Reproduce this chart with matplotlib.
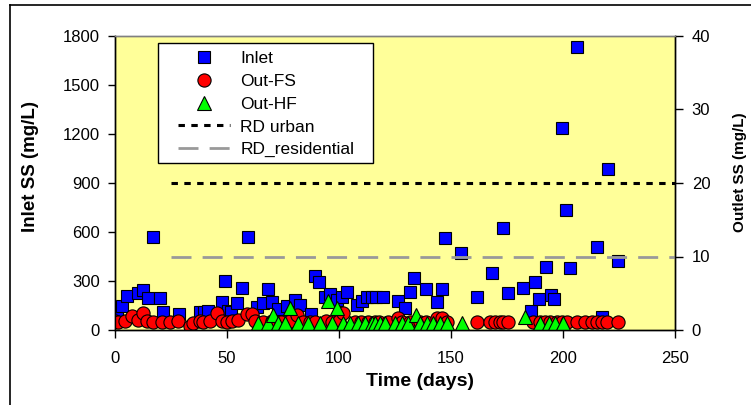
import matplotlib
matplotlib.use('Agg')
import matplotlib.pyplot as plt
from matplotlib.lines import Line2D
from matplotlib.patches import Rectangle

plt.rcParams['font.family'] = ['Liberation Sans', 'DejaVu Sans']

# ---------------- data ----------------
inlet_days = [0.7, 3.3, 5.2, 10.4, 12.6, 14.6, 17.1, 20.1, 21.6, 28.6, 37.9, 39.9, 41.7,
              47.6, 49.1, 50.6, 52.0, 54.3, 56.5, 59.5, 63.2, 66.2, 68.5, 70.0, 72.9,
              76.6, 80.4, 82.6, 87.5, 89.3, 91.2, 93.8, 96.0, 99.0, 101.2, 103.4, 107.9,
              110.1, 112.4, 114.6, 116.5, 119.8, 126.5, 129.5, 131.7, 133.6, 138.8,
              143.9, 145.8, 147.3, 154.5, 161.5, 168.4, 173.4, 175.3, 182.3, 185.7,
              187.3, 189.4, 192.4, 194.5, 196.2, 199.4, 201.3, 203.1, 206.4, 215.0,
              217.3, 220.2, 224.7]
inlet_ss = [92, 147, 208, 229, 245, 198, 567, 198, 110, 96, 110, 113, 116,
            173, 300, 116, 112, 163, 255, 567, 143, 163, 249, 173, 127,
            147, 184, 153, 96, 331, 294, 200, 220, 184, 204, 231, 153,
            179, 204, 200, 204, 204, 179, 137, 231, 320, 249,
            170, 249, 561, 470, 204, 352, 623, 225, 259, 114,
            292, 188, 388, 212, 188, 1235, 735, 378, 1731, 510,
            82, 986, 421]

fs_days = [0.0, 1.5, 4.5, 7.4, 10.4, 12.6, 14.1, 17.0, 20.8, 24.6, 28.3, 33.5, 35.0,
           38.0, 39.4, 42.4, 45.4, 47.6, 49.8, 52.1, 55.0, 58.8, 61.0, 62.5,
           66.0, 70.0, 74.0, 78.0, 81.1, 84.0, 87.0, 89.3, 94.0, 97.0, 100.0, 102.0,
           107.0, 110.0, 113.0, 116.0, 118.0, 122.0, 126.5, 128.0, 131.7, 136.0,
           139.0, 143.6, 145.8, 148.0,
           161.5, 167.4, 169.6, 171.9, 173.4, 175.6, 186.7, 189.7, 192.0, 194.2,
           197.2, 199.4, 201.6, 206.1, 209.8, 212.8, 215.0, 217.3, 219.5, 224.7]
fs_ss = [1.2, 1.1, 1.2, 1.9, 1.3, 2.3, 1.2, 1.1, 1.1, 1.1, 1.2, 0.5, 1.0,
         1.2, 1.1, 1.2, 2.3, 1.2, 1.1, 1.2, 1.3, 2.2, 2.2, 1.2,
         1.1, 1.2, 1.1, 1.2, 2.0, 1.1, 1.1, 1.1, 1.2, 1.1, 1.2, 2.3,
         1.1, 1.1, 1.1, 1.1, 1.1, 1.1, 1.6, 1.1, 1.1, 1.1,
         1.1, 1.6, 1.6, 1.1,
         1.1, 1.1, 1.1, 1.1, 1.1, 1.1, 1.1, 1.1, 1.1, 1.1,
         1.1, 1.1, 1.1, 1.1, 1.1, 1.1, 1.1, 1.1, 1.1, 1.1]

hf_days = [64.0, 68.4, 70.7, 72.9, 75.9, 78.1, 81.8, 86.3, 91.5, 95.0, 96.7, 99.0,
           101.9, 104.9, 108.6, 111.6, 114.6, 116.1, 118.3, 120.5, 125.0, 128.0,
           130.9, 134.4, 136.2, 139.2, 142.1, 145.1, 148.1, 155.0, 183.0, 189.7,
           193.9, 196.4, 200.1]
hf_ss = [0.9, 0.9, 2.0, 0.9, 0.9, 2.95, 0.9, 0.9, 0.9, 4.0, 0.9, 2.95,
         0.9, 0.9, 0.9, 0.9, 0.9, 0.9, 0.9, 0.9, 0.9, 0.9,
         0.9, 2.0, 0.9, 0.9, 0.9, 0.9, 0.9, 0.9, 1.8, 0.9,
         0.9, 0.9, 0.9]

rd_urban = 20
rd_residential = 10
rd_start_day = 25
rd_end_day = 250

x_ticks = [0, 50, 100, 150, 200, 250]
left_ticks = [0, 300, 600, 900, 1200, 1500, 1800]
right_ticks = [0, 10, 20, 30, 40]

# ---------------- figure ----------------
W, H = 751, 405
fig = plt.figure(figsize=(W / 100, H / 100), dpi=100)
ax = fig.add_axes([115 / W, 75 / H, 560 / W, 294 / H])
ax.set_facecolor('#FFFF99')
ax2 = ax.twinx()
ax2.set_zorder(ax.get_zorder() + 1)
ax2.patch.set_visible(False)

ax.plot(inlet_days, inlet_ss, linestyle='none', marker='s', markersize=8.5,
        markerfacecolor='#0000FF', markeredgecolor='black', markeredgewidth=0.8,
        label='Inlet')

ax2.hlines(rd_urban, rd_start_day, rd_end_day, colors='black', linewidth=2.2,
           linestyles=[(0, (2.1, 2.1))], label='RD urban')
ax2.hlines(rd_residential, rd_start_day, rd_end_day, colors='#999999', linewidth=2.0,
           linestyles=[(0, (7.2, 4.0))], label='RD_residential')

ax2.plot(fs_days, fs_ss, linestyle='none', marker='o', markersize=9.5,
         markerfacecolor='#FF0000', markeredgecolor='black', markeredgewidth=0.8,
         label='Out-FS')
ax2.plot(hf_days, hf_ss, linestyle='none', marker='^', markersize=9.5,
         markerfacecolor='#00FF00', markeredgecolor='black', markeredgewidth=0.8,
         label='Out-HF')

ax.set_xlim(0, 250)
ax.set_ylim(0, 1800)
ax2.set_ylim(0, 40)
ax.set_xticks(x_ticks)
ax.set_yticks(left_ticks)
ax2.set_yticks(right_ticks)

fs_tick = 12
ax.tick_params(axis='x', direction='out', length=6, width=1, labelsize=fs_tick, pad=9)
ax.tick_params(axis='y', direction='out', length=5, width=1, labelsize=fs_tick, pad=6)
ax2.tick_params(axis='y', direction='out', length=6, width=1, labelsize=fs_tick, pad=6)

for a in (ax, ax2):
    for s in a.spines.values():
        s.set_linewidth(1.0)
        s.set_color('black')
    a.spines['top'].set_color('#808080')

ax.set_xlabel('Time (days)', fontsize=14, fontweight='bold')
ax.set_ylabel('Inlet SS (mg/L)', fontsize=13.5, fontweight='bold')
ax2.set_ylabel('Outlet SS (mg/L)', fontsize=11, fontweight='bold', rotation=90)
ax.yaxis.set_label_coords((39 - 115) / 560, (330 - 167) / 294)
ax2.yaxis.set_label_coords((733 - 115) / 560, (330 - 172) / 294)
ax.xaxis.set_label_coords((420 - 115) / 560, -(373 - 330) / 294)

# legend frame + legend contents
ax2.add_patch(Rectangle((158 / W, 1 - 163 / H), 215 / W, 120 / H, transform=fig.transFigure,
                        facecolor='white', edgecolor='black', linewidth=1.0, zorder=4.5,
                        clip_on=False))
leg_handles = [
    Line2D([], [], linestyle='none', marker='s', markersize=8.5, markerfacecolor='#0000FF',
           markeredgecolor='black', markeredgewidth=0.8),
    Line2D([], [], linestyle='none', marker='o', markersize=9.5, markerfacecolor='#FF0000',
           markeredgecolor='black', markeredgewidth=0.8),
    Line2D([], [], linestyle='none', marker='^', markersize=9.5, markerfacecolor='#00FF00',
           markeredgecolor='black', markeredgewidth=0.8),
    Line2D([], [], color='black', linewidth=2.2, linestyle=(0, (2.1, 2.1))),
    Line2D([], [], color='#999999', linewidth=2.0, linestyle=(0, (7.2, 4.0))),
]
leg_labels = ['Inlet', 'Out-FS', 'Out-HF', 'RD urban', 'RD_residential']
leg = ax2.legend(leg_handles, leg_labels, loc='upper left',
                 bbox_to_anchor=(178 / W, 1 - 51 / H), bbox_transform=fig.transFigure,
                 fontsize=12.5, frameon=False,
                 handlelength=3.0, handletextpad=0.6, labelspacing=0.44,
                 borderpad=0, borderaxespad=0, numpoints=1)
leg.set_zorder(6)

# figure outer frame (top and left visible)
fig.add_artist(Line2D([10 / W, 1.0], [1 - 5 / H, 1 - 5 / H], transform=fig.transFigure,
                      color='black', linewidth=1.2))
fig.add_artist(Line2D([10 / W, 10 / W], [0.0, 1 - 5 / H], transform=fig.transFigure,
                      color='black', linewidth=1.2))

fig.savefig('out.png', dpi=100)
